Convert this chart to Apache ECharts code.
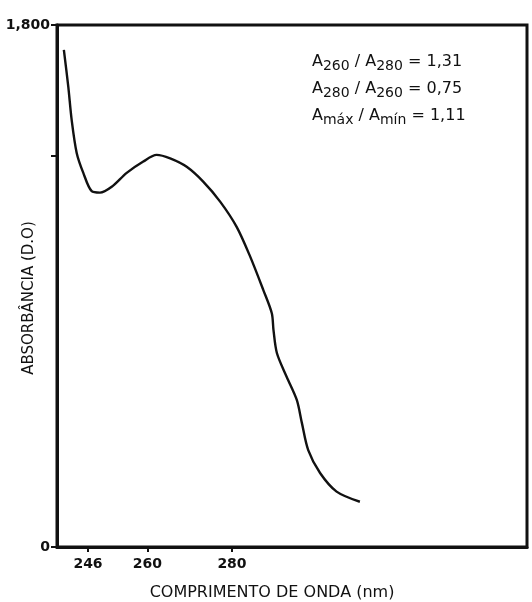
<!DOCTYPE html>
<html>
<head>
<meta charset="utf-8">
<script src="https://cdn.jsdelivr.net/npm/echarts@6/dist/echarts.min.js"></script>
<style>
  html, body { margin: 0; padding: 0; background: #fff; }
  #chart { width: 532px; height: 602px; }
</style>
</head>
<body>
<div id="chart"></div>
<script>
// comprimento de onda (nm) e absorbância
const wavelength = [240.3, 241.35, 242.15, 243.33, 244.89, 246.87, 248.83, 251.6, 255.14, 259.06,
  262.2, 265.4, 269.3, 273.2, 277.2, 281.1, 284.25, 287.4, 289.4, 289.8,
  290.6, 292.9, 295.3, 296.5, 298.0, 300.8, 304.7, 310.2]
const absorbance = [1.714, 1.587, 1.472, 1.359, 1.290, 1.227, 1.222, 1.242, 1.290, 1.329,
  1.352, 1.340, 1.311, 1.260, 1.191, 1.104, 1.003, 0.886, 0.806, 0.748,
  0.669, 0.587, 0.507, 0.428, 0.334, 0.255, 0.191, 0.156]

const xTicks = [246, 260, 280]
const yLabels = [0, 1.8]
const yTicks = [0, 1.35, 1.8]

const ratios = [
  ['260', '280', '1,31'],
  ['280', '260', '0,75'],
  ['máx', 'mín', '1,11']
]

const font = 'DejaVu Sans'
const chart = echarts.init(document.getElementById('chart'))

const ratioText = ratios.map(r => `{a|A}{s|${r[0]}}{a| / A}{s|${r[1]}}{a| = ${r[2]}}`).join('\n')

const option = {
  animation: false,
  textStyle: { fontFamily: font, color: '#111' },
  grid: {
    left: 57, right: 5, top: 25, bottom: 55,
    outerBoundsMode: 'none',
    show: true, borderColor: '#111', borderWidth: 3
  },
  xAxis: {
    type: 'value',
    min: 238.68,
    max: 349.66,
    name: 'COMPRIMENTO DE ONDA (nm)',
    nameLocation: 'middle',
    nameGap: 38,
    nameMoveOverlap: false,
    nameTextStyle: { fontFamily: font, fontSize: 16, color: '#111', padding: [0, 40, 0, 0] },
    axisLine: { lineStyle: { color: '#111', width: 3 } },
    axisTick: { customValues: xTicks, length: 5, lineStyle: { color: '#111', width: 2 } },
    axisLabel: { customValues: xTicks, fontFamily: font, fontSize: 14, fontWeight: 'bold', color: '#111', margin: 10 },
    splitLine: { show: false }
  },
  yAxis: {
    type: 'value',
    min: 0,
    max: 1.8,
    name: 'ABSORBÂNCIA (D.O)',
    nameLocation: 'middle',
    nameGap: 20,
    nameMoveOverlap: false,
    nameTextStyle: { fontFamily: font, fontSize: 15, color: '#111', padding: [0, 24, 0, 0] },
    axisLine: { show: true, lineStyle: { color: '#111', width: 3 } },
    axisTick: { customValues: yTicks, length: 6, lineStyle: { color: '#111', width: 2 } },
    axisLabel: {
      customValues: yLabels,
      fontFamily: font,
      fontSize: 14,
      fontWeight: 'bold',
      color: '#111',
      margin: 7,
      formatter: v => v === 0 ? '0' : v.toFixed(3).replace('.', ',')
    },
    splitLine: { show: false }
  },
  graphic: [{
    type: 'text',
    left: 312,
    top: 50,
    style: {
      text: ratioText,
      fill: '#111',
      rich: {
        a: { fontSize: 16, fontFamily: font, lineHeight: 27, fill: '#111' },
        s: { fontSize: 14, fontFamily: font, lineHeight: 27, padding: [9, 0, 0, 0], fill: '#111' }
      }
    }
  }],
  series: [{
    type: 'line',
    data: wavelength.map((w, i) => [w, absorbance[i]]),
    showSymbol: false,
    smooth: 0.3,
    lineStyle: { color: '#111', width: 2.4 }
  }]
}

chart.setOption(option)
</script>
</body>
</html>
